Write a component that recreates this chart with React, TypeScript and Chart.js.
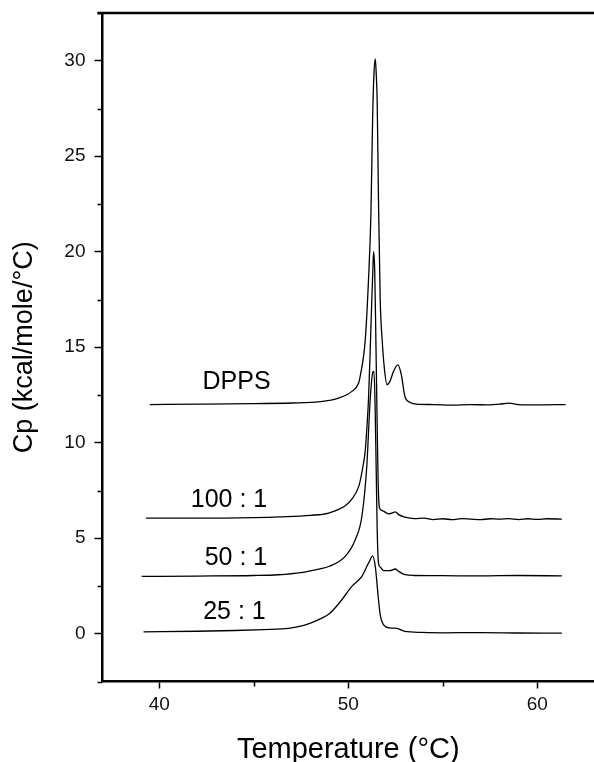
import { useEffect, useRef } from "react";
import { Chart, registerables } from "chart.js";

Chart.register(...registerables);

// ---- data ----
const dppsX = [39.5, 42.0, 45.0, 47.0, 48.5, 49.49, 50.19, 50.55, 50.63, 50.9, 51.07, 51.2, 51.29, 51.36, 51.43, 51.48, 51.53, 51.6, 51.69, 51.8, 51.9, 52.05, 52.2, 52.4, 52.63, 52.8, 53.0, 53.28, 53.6, 54.5, 55.5, 56.5, 57.5, 58.0, 58.5, 59.0, 60.0, 61.5];
const dppsY = [12.0, 12.02, 12.05, 12.08, 12.15, 12.34, 12.69, 13.13, 13.47, 15.4, 18.5, 22.0, 27.0, 29.3, 30.1, 29.3, 27.9, 22.7, 17.5, 15.3, 14.0, 13.04, 13.2, 13.75, 14.08, 13.6, 12.42, 12.11, 12.02, 12.0, 11.97, 12.0, 11.98, 12.02, 12.07, 12.0, 11.98, 12.0];

const r100X = [39.3, 42.0, 45.0, 46.4, 48.0, 48.96, 49.84, 50.19, 50.55, 50.75, 50.9, 51.0, 51.07, 51.15, 51.23, 51.3, 51.34, 51.4, 51.46, 51.52, 51.58, 51.65, 51.8, 52.13, 52.3, 52.49, 52.65, 53.0, 53.5, 54.0, 54.5, 55.0, 55.5, 56.0, 56.5, 57.0, 57.5, 58.0, 58.5, 59.0, 59.5, 60.0, 60.5, 61.3];
const r100Y = [6.05, 6.05, 6.08, 6.12, 6.2, 6.32, 6.7, 7.05, 7.7, 8.6, 9.6, 11.0, 12.25, 14.5, 17.0, 19.0, 20.0, 19.0, 15.5, 11.5, 8.0, 6.6, 6.45, 6.28, 6.32, 6.38, 6.25, 6.1, 6.03, 6.05, 5.98, 6.02, 5.97, 6.03, 6.0, 5.97, 6.02, 6.0, 6.03, 5.98, 6.02, 5.99, 6.02, 6.0];

const r50X = [39.08, 42.0, 45.0, 46.3, 47.5, 48.5, 48.96, 49.84, 50.37, 50.72, 50.98, 51.16, 51.3, 51.36, 51.42, 51.48, 51.53, 51.6, 51.69, 51.87, 52.2, 52.49, 52.65, 53.0, 53.5, 55.0, 57.0, 59.0, 61.3];
const r50Y = [3.0, 3.02, 3.05, 3.09, 3.2, 3.4, 3.52, 4.05, 4.92, 6.14, 8.76, 12.25, 13.7, 13.73, 12.0, 8.5, 5.5, 3.7, 3.5, 3.31, 3.3, 3.39, 3.28, 3.09, 3.05, 3.04, 3.03, 3.05, 3.03];

const r25X = [39.17, 42.0, 44.0, 45.5, 46.85, 47.6, 48.07, 48.6, 48.96, 49.3, 49.66, 50.19, 50.72, 50.98, 51.15, 51.29, 51.43, 51.6, 51.69, 51.87, 52.22, 52.57, 53.0, 53.9, 55.0, 57.0, 59.0, 61.3];
const r25Y = [0.1, 0.13, 0.17, 0.22, 0.28, 0.42, 0.58, 0.82, 1.02, 1.35, 1.78, 2.48, 3.0, 3.52, 3.85, 4.08, 3.52, 1.78, 1.0, 0.47, 0.3, 0.28, 0.12, 0.07, 0.05, 0.06, 0.04, 0.03];

const seriesNames = ["DPPS", "100 : 1", "50 : 1", "25 : 1"];
const labelX = [44.09, 43.69, 44.06, 43.98];
const labelY = [13.19, 6.99, 3.96, 1.11];

const xMajorTicks = [40, 50, 60];
const xMinorTicks = [45, 55];
const yMajorTicks = [0, 5, 10, 15, 20, 25, 30];
const yMinorTicks = [-2.5, 2.5, 7.5, 12.5, 17.5, 22.5, 27.5, 32.5];

const FONT = "'Liberation Sans', Arial, Helvetica, sans-serif";

const toPoints = (xs: number[], ys: number[]) => xs.map((x, i) => ({ x, y: ys[i] }));

const framePlugin = {
  id: "frameAndMinor",
  afterDraw(chart: any) {
    const { ctx, chartArea, scales } = chart;
    const xs = scales.x;
    const ys = scales.y;
    ctx.save();
    ctx.strokeStyle = "#000";
    // top frame line
    ctx.lineWidth = 2.5;
    ctx.beginPath();
    ctx.moveTo(chartArea.left - 5, chartArea.top);
    ctx.lineTo(chartArea.right, chartArea.top);
    ctx.stroke();
    // minor ticks
    ctx.lineWidth = 1.5;
    ctx.beginPath();
    for (const v of yMinorTicks) {
      const py = Math.round(ys.getPixelForValue(v)) + 0.5;
      ctx.moveTo(chartArea.left - 5, py);
      ctx.lineTo(chartArea.left, py);
    }
    for (const v of xMinorTicks) {
      const px = Math.round(xs.getPixelForValue(v)) + 0.5;
      ctx.moveTo(px, chartArea.bottom);
      ctx.lineTo(px, chartArea.bottom + 5);
    }
    ctx.stroke();
    // series labels
    ctx.fillStyle = "#000";
    ctx.font = `25px ${FONT}`;
    ctx.textAlign = "center";
    ctx.textBaseline = "middle";
    seriesNames.forEach((n, i) => {
      ctx.fillText(n, xs.getPixelForValue(labelX[i]), ys.getPixelForValue(labelY[i]));
    });
    ctx.restore();
  },
};

export default function App() {
  const ref = useRef<HTMLCanvasElement | null>(null);
  useEffect(() => {
    if (!ref.current) return;
    const lineDs = (xs: number[], ys: number[]) => ({
      data: toPoints(xs, ys),
      showLine: true,
      borderColor: "#000",
      borderWidth: 1.3,
      pointRadius: 0,
      fill: false,
      cubicInterpolationMode: "monotone" as const,
    });
    const chart = new Chart(ref.current, {
      type: "scatter",
      data: {
        datasets: [
          lineDs(dppsX, dppsY),
          lineDs(r100X, r100Y),
          lineDs(r50X, r50Y),
          lineDs(r25X, r25Y),
        ],
      },
      options: {
        animation: false,
        responsive: false,
        devicePixelRatio: 1,
        layout: { padding: { top: 13, right: 0, left: 0, bottom: 0 } },
        plugins: { legend: { display: false }, tooltip: { enabled: false } },
        scales: {
          x: {
            type: "linear",
            min: 37,
            max: 63,
            afterBuildTicks: (s: any) => {
              s.ticks = xMajorTicks.map((v) => ({ value: v }));
            },
            afterFit: (s: any) => {
              s.height = 80.5;
              s.paddingLeft = 0;
              s.paddingRight = 0;
            },
            ticks: { font: { family: FONT, size: 19 }, color: "#111", padding: 5, maxRotation: 0 },
            grid: { drawOnChartArea: false, drawTicks: true, tickLength: 7, tickWidth: 1.5, tickColor: "#000" },
            border: { display: true, width: 2.5, color: "#000" },
            title: {
              display: true,
              text: "Temperature (°C)",
              font: { family: FONT, size: 29, lineHeight: 1 },
              color: "#000",
              padding: { top: 0, bottom: -2 },
            },
          },
          y: {
            type: "linear",
            min: -2.5,
            max: 32.5,
            afterBuildTicks: (s: any) => {
              s.ticks = yMajorTicks.map((v) => ({ value: v }));
            },
            afterFit: (s: any) => {
              s.width = 102.5;
              s.paddingTop = 0;
              s.paddingBottom = 0;
            },
            ticks: { font: { family: FONT, size: 19 }, color: "#111", padding: 9 },
            grid: { drawOnChartArea: false, drawTicks: true, tickLength: 8, tickWidth: 1.5, tickColor: "#000" },
            border: { display: true, width: 2.5, color: "#000" },
            title: {
              display: true,
              text: "Cp (kcal/mole/°C)",
              font: { family: FONT, size: 27, lineHeight: 1 },
              color: "#000",
              padding: { top: 11, bottom: 11 },
            },
          },
        },
      },
      plugins: [framePlugin],
    });
    return () => chart.destroy();
  }, []);
  return (
    <div style={{ position: "fixed", left: 0, top: 0, width: 594, height: 762, background: "#fff" }}>
      <canvas ref={ref} width={594} height={762} style={{ display: "block" }} />
    </div>
  );
}
